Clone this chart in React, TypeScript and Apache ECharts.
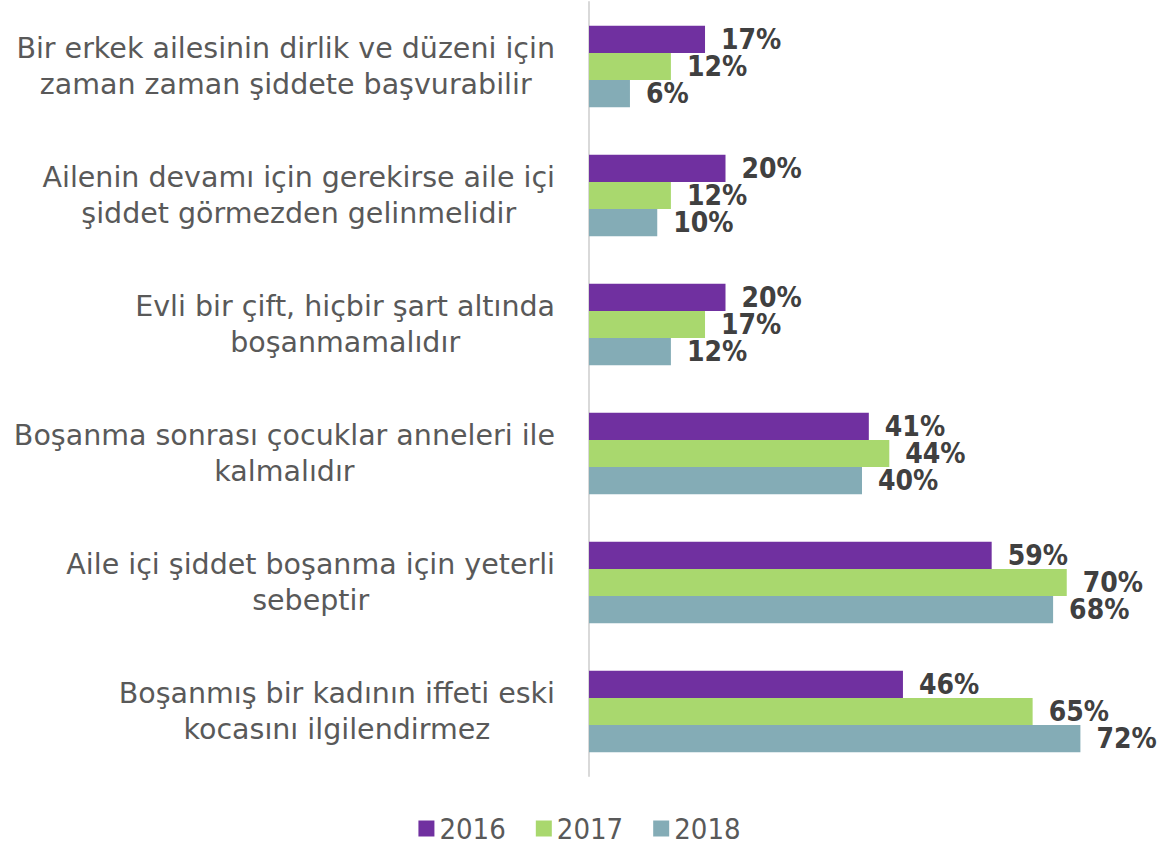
import React, { useEffect, useRef } from "react";
import * as echarts from "echarts";

const categories = [
  "Bir erkek ailesinin dirlik ve düzeni için\nzaman zaman şiddete başvurabilir",
  "Ailenin devamı için gerekirse aile içi\nşiddet görmezden gelinmelidir",
  "Evli bir çift, hiçbir şart altında\nboşanmamalıdır",
  "Boşanma sonrası çocuklar anneleri ile\nkalmalıdır",
  "Aile içi şiddet boşanma için yeterli\nsebeptir",
  "Boşanmış bir kadının iffeti eski\nkocasını ilgilendirmez",
];
const seriesNames = ["2016", "2017", "2018"];
const values2016 = [17, 20, 20, 41, 59, 46];
const values2017 = [12, 12, 17, 44, 70, 65];
const values2018 = [6, 10, 12, 40, 68, 72];
const colors = ["#7030a0", "#a9d86e", "#84acb6"];

export default function App() {
  const ref = useRef<HTMLDivElement>(null);
  useEffect(() => {
    document.body.style.margin = "0";
    const chart = echarts.init(ref.current!, null, { renderer: "svg" });
    const labelFont = "'DejaVu Sans Condensed', 'Liberation Sans Narrow', sans-serif";
    const catFont = "'DejaVu Sans', sans-serif";
    const mk = (name: string, data: number[], color: string) => ({
      name,
      type: "bar",
      data,
      barGap: "0%",
      barCategoryGap: "37%",
      itemStyle: { color },
      label: {
        show: true,
        position: "right",
        distance: 16,
        formatter: "{c}%",
        color: "#404040",
        fontWeight: "bold",
        fontSize: 28,
        fontFamily: labelFont,
      },
    });
    chart.setOption({
      animation: false,
      color: colors,
      grid: { left: 589, right: 24, top: 2, bottom: 72 },
      legend: {
        bottom: 0,
        left: "center",
        itemWidth: 16,
        itemHeight: 16,
        itemGap: 30,
        icon: "rect",
        textStyle: { fontSize: 29, color: "#595959", fontFamily: labelFont },
      },
      xAxis: { type: "value", min: 0, max: 80, show: false, splitLine: { show: false } },
      yAxis: {
        type: "category",
        data: categories,
        inverse: true,
        axisLine: { lineStyle: { color: "#d9d9d9", width: 2 } },
        axisTick: { show: false },
        axisLabel: {
          margin: 34,
          align: "right",
          formatter: (v: string) =>
            v
              .split("\n")
              .map((l) => "{c|" + l + "}")
              .join("\n"),
          rich: {
            c: {
              align: "center",
              fontSize: 28.5,
              lineHeight: 36,
              color: "#595959",
              fontFamily: catFont,
            },
          },
        },
      },
      series: [
        mk(seriesNames[0], values2016, colors[0]),
        mk(seriesNames[1], values2017, colors[1]),
        mk(seriesNames[2], values2018, colors[2]),
      ],
    });
    return () => chart.dispose();
  }, []);
  return <div ref={ref} style={{ width: 1159, height: 848 }} />;
}
